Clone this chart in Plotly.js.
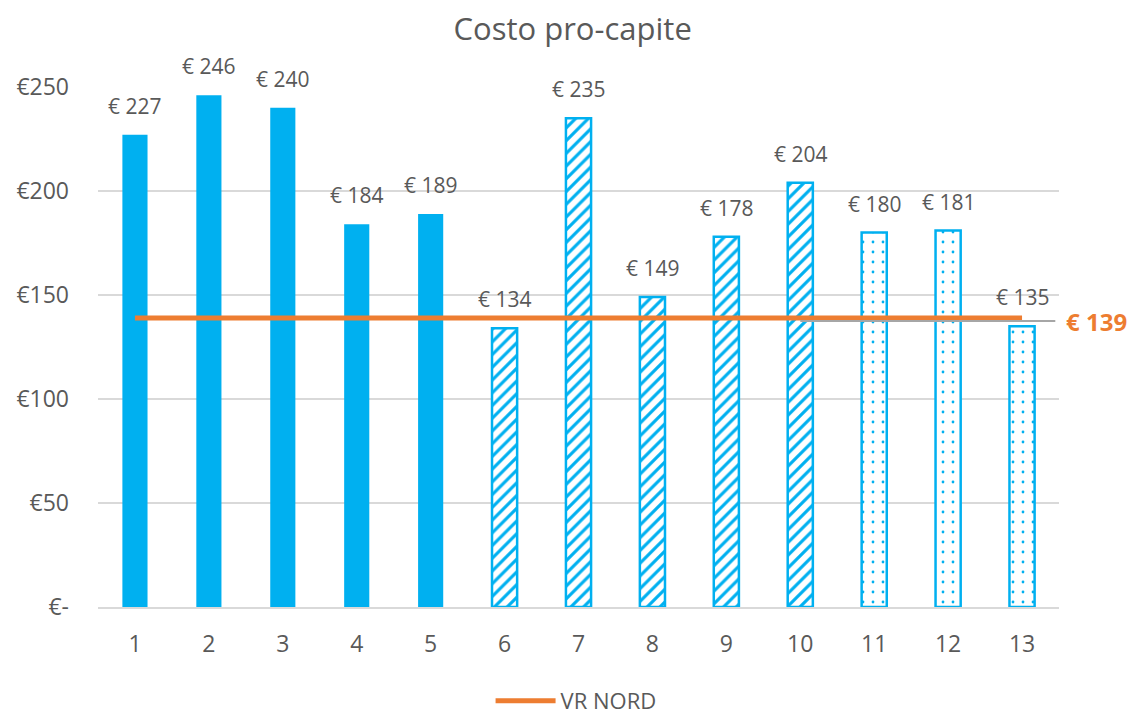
<!DOCTYPE html>
<html>
<head>
<meta charset="utf-8">
<script src="https://cdn.plot.ly/plotly-3.0.1.min.js"></script>
<style>html,body{margin:0;padding:0;background:#fff;}#chart{width:1134px;height:722px;}</style>
</head>
<body>
<div id="chart"></div>
<script>
const categories = ['1','2','3','4','5','6','7','8','9','10','11','12','13'];
const costValues = [227, 246, 240, 184, 189, 134, 235, 149, 178, 204, 180, 181, 135];
const barPatterns = ['', '', '', '', '', '/', '/', '/', '/', '/', '.', '.', '.'];
const vrNordValue = 139;
const vrNordName = 'VR NORD';
const yTickVals = [0, 50, 100, 150, 200, 250];
const yTickText = ['€-', '€50', '€100', '€150', '€200', '€250'];
const titleText = 'Costo pro-capite';

const blue = '#00B0F0';
const orange = '#ED7D31';
const txt = '#595959';
const font = 'Open Sans, Noto Sans, sans-serif';

const xNums = categories.map(c => Number(c));

const bars = {
  type: 'bar',
  x: xNums,
  y: costValues,
  width: 0.34,
  marker: {
    color: blue,
    line: {color: blue, width: barPatterns.map(p => p === '' ? 0 : 2.5)},
    pattern: {shape: barPatterns, bgcolor: '#ffffff', fgcolor: blue,
              size: barPatterns.map(p => p === '.' ? 10 : 9),
              solidity: barPatterns.map(p => p === '.' ? 0.06 : 0.35), fillmode: 'replace'}
  },
  showlegend: false,
  hoverinfo: 'x+y'
};

const line = {
  type: 'scatter',
  mode: 'lines',
  x: xNums,
  y: xNums.map(() => vrNordValue),
  name: vrNordName,
  line: {color: orange, width: 5},
  showlegend: true
};

const annotations = costValues.map((v, i) => ({
  x: xNums[i], y: v, xref: 'x', yref: 'y',
  text: '€ ' + v, showarrow: false,
  yanchor: 'bottom', yshift: 13,
  font: {family: font, size: 21, color: txt}
}));
annotations.push({
  xref: 'paper', yref: 'y', x: 1, y: vrNordValue,
  text: '<b>€ ' + vrNordValue + '</b>', showarrow: false,
  xanchor: 'left', xshift: 5, yanchor: 'middle', yshift: -4,
  font: {family: font, size: 24, color: orange}
});

const layout = {
  width: 1134, height: 722,
  margin: {l: 98, r: 75, t: 87, b: 115},
  paper_bgcolor: '#ffffff', plot_bgcolor: '#ffffff',
  title: {text: titleText, x: 0.505, xref: 'container', y: 0.96, yref: 'container', yanchor: 'middle',
          font: {family: font, size: 31, color: txt}},
  font: {family: font, color: txt},
  xaxis: {
    range: [0.5, 13.5], tickvals: xNums, ticktext: categories,
    showgrid: false, zeroline: false, showline: true, linecolor: '#d9d9d9', linewidth: 1.5,
    ticks: '', ticklabelstandoff: 16, tickfont: {family: font, size: 23, color: txt}, fixedrange: true
  },
  yaxis: {
    range: [0, 250], tickvals: yTickVals, ticktext: yTickText,
    showgrid: true, gridcolor: '#d9d9d9', gridwidth: 1.5, zeroline: false, showline: false,
    ticks: '', ticklabelstandoff: 28, tickfont: {family: font, size: 23, color: txt}, fixedrange: true
  },
  bargap: 0.66,
  showlegend: true,
  legend: {orientation: 'h', x: 0.508, xref: 'container', xanchor: 'center', y: -0.007, yref: 'container', yanchor: 'bottom',
           font: {family: font, size: 22, color: txt}, itemwidth: 60, tracegroupgap: 0},
  shapes: [{
    type: 'line', xref: 'x', yref: 'y', x0: 10, x1: 13.45, y0: vrNordValue - 1.5, y1: vrNordValue - 1.5,
    line: {color: '#a6a6a6', width: 2}, layer: 'above'
  }],
  annotations: annotations
};

Plotly.newPlot('chart', [bars, line], layout, {displayModeBar: false, staticPlot: true});
</script>
</body>
</html>
